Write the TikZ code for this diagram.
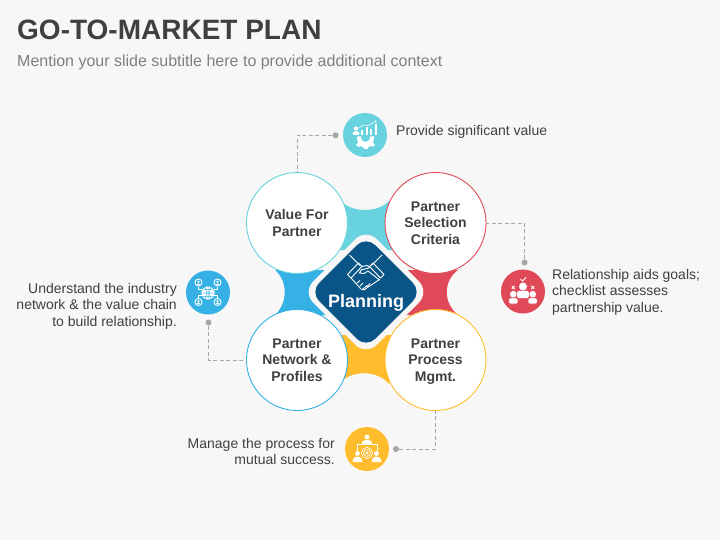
\documentclass[tikz,border=0pt]{standalone}
\usepackage{fontspec}
\setmainfont{Liberation Sans}
\definecolor{bgc}{HTML}{F7F7F7}
\definecolor{teal}{HTML}{68D3DE}
\definecolor{redc}{HTML}{E04A58}
\definecolor{bluec}{HTML}{36B1E5}
\definecolor{yellowc}{HTML}{FFBC2C}
\definecolor{navy}{HTML}{0A5587}
\definecolor{ink}{HTML}{404040}
\definecolor{subc}{HTML}{7F7F7F}
\definecolor{linec}{HTML}{A6A6A6}
\tikzset{
  bigcircle/.style={circle,fill=white,draw=#1,line width=0.9pt,minimum size=101pt,inner sep=0pt,align=center,text=ink,font=\bfseries\fontsize{14}{16.5}\selectfont},
  iconcircle/.style={circle,fill=#1,minimum size=44pt,inner sep=0pt},
  dotnode/.style={circle,fill=linec,minimum size=6pt,inner sep=0pt},
  leader/.style={draw=linec,line width=0.8pt,dash pattern=on 4pt off 2.5pt},
  note/.style={text=ink,font=\fontsize{14}{16.5}\selectfont,inner sep=0pt},
  ico/.style={fill=white,draw=none},
  icl/.style={draw=white,line width=0.6pt,fill=none},
  hand/.style={draw=white,line width=0.9pt,fill=none,line join=round},
}
\begin{document}
\begin{tikzpicture}[x=1pt,y=-1pt]
\useasboundingbox (0,0) rectangle (720,540);
\fill[bgc] (0,0) rectangle (720,540);
% title
\node[anchor=west,inner sep=0pt,text=ink,font=\bfseries\fontsize{28}{30}\selectfont] (title) at (17,30) {GO-TO-MARKET PLAN};
\node[anchor=west,inner sep=0pt,text=subc,font=\fontsize{16}{18}\selectfont] (subtitle) at (17,62) {Mention your slide subtitle here to provide additional context};
% coloured connecting regions
\fill[teal] (341,201) .. controls (352,213) and (378,213) .. (389,201) -- (395,250) -- (335,250) -- cycle;
\fill[bluec] (275,270) .. controls (288,281) and (288,303) .. (275,315) -- (330,315) -- (330,270) -- cycle;
\fill[redc] (458,270) .. controls (443,281) and (443,303) .. (458,315) -- (400,315) -- (400,270) -- cycle;
\fill[yellowc] (341,382) .. controls (352,370) and (378,370) .. (389,384) -- (395,335) -- (335,335) -- cycle;
% big circles
\node[bigcircle=teal] (value) at (297,223) {Value For\\Partner};
\node[bigcircle=redc] (selection) at (435.5,223) {Partner\\Selection\\Criteria};
\node[bigcircle=bluec] (network) at (297,360) {Partner\\Network \&\\Profiles};
\node[bigcircle=yellowc] (process) at (435.5,360) {Partner\\Process\\\smash{Mgmt.}};
% centre diamond
\fill[bgc,rounded corners=15pt] (366,228.5) -- (429.5,292) -- (366,355.5) -- (302.5,292) -- cycle;
\fill[navy,rounded corners=13pt] (366,236) -- (422,292) -- (366,348) -- (310,292) -- cycle;
\node[inner sep=0pt,text=white,font=\bfseries\fontsize{18}{20}\selectfont] (planning) at (366,302.5) {Planning};
% handshake
\draw[hand] (349.5,255) -- (360,265.5) (382,255) -- (371.5,265.5);
\draw[hand] (347.5,274.5) -- (358.5,263) -- (362,266.5) -- (351,278) -- cycle;
\draw[hand] (384,274.5) -- (373,263) -- (369.5,266.5) -- (380.5,278) -- cycle;
\draw[hand] (362,266.5) -- (367,265.5) -- (371,268) (369,268) -- (361,270) -- (359.5,273) -- (364,273.5) -- (368,271) -- (379.5,280);
\draw[hand] (351,278) -- (361,289) -- (364,290) -- (366,288.5) -- (379.5,279.5);
\draw[hand] (357,283) -- (360,280.5) (360,286) -- (363,283) (363,289) -- (367,285.5) (367,287) -- (370,283.5);
% icon circles
\node[iconcircle=teal] (ivalue) at (365,135) {};
\node[iconcircle=redc] (iselection) at (523,291.5) {};
\node[iconcircle=bluec] (inetwork) at (208,292.5) {};
\node[iconcircle=yellowc] (iprocess) at (367,449) {};
% dots and leaders
\node[dotnode] (dvalue) at (335.5,135.3) {};
\node[dotnode] (dselection) at (524.5,262.5) {};
\node[dotnode] (dnetwork) at (208.5,322.5) {};
\node[dotnode] (dprocess) at (396,449) {};
\draw[leader] (dvalue) -| (value.north);
\draw[leader] (dselection) |- (selection.east);
\draw[leader] (dnetwork) |- (network.west);
\draw[leader] (dprocess) -| (process.south);
% notes
\node[note,anchor=west] (nvalue) at (396,132) {Provide significant value};
\node[note,anchor=west,align=left] (nselection) at (552,292) {Relationship aids goals;\\checklist assesses\\partnership value.};
\node[note,anchor=east,align=right] (nnetwork) at (177,306) {Understand the industry\\network \& the value chain\\to build relationship.};
\node[note,anchor=east,align=right] (nprocess) at (335,451.5) {Manage the process for\\mutual success.};
% icon: value (person, bars, gear)
\begin{scope}[shift={(365,135)}]
\fill[ico] (-9,-6.5) circle[radius=2.2];
\fill[ico,rounded corners=1.5pt] (-12.5,0) -- (-12.5,-3.5) -- (-5.5,-3.5) -- (-5.5,0) -- cycle;
\fill[ico] (-4.5,0) rectangle (-2.5,-4.5);
\fill[ico] (0.5,0) rectangle (2.5,-7.5);
\fill[ico] (5,0) rectangle (7,-5.5);
\fill[ico] (9.5,0) rectangle (11.5,-10.5);
\draw[icl] (-6,-7) -- (-1.5,-10) -- (3,-9.5) -- (9.5,-13);
\fill[ico] (10.5,-13.5) circle[radius=1];
\fill[ico] (-8,1.5) .. controls (-8,9) and (-4,13) .. (0.5,13) .. controls (5,13) and (9,9) .. (9,1.5) -- (5,1.5) .. controls (5,5) and (3,7) .. (0.5,7) .. controls (-2,7) and (-4,5) .. (-4,1.5) -- cycle;
\fill[ico] (-1.5,12) rectangle (2.5,14.5);
\fill[ico] (-7,7.5) -- (-9,10) -- (-6,12) -- (-4,10) -- cycle;
\fill[ico] (8,7.5) -- (10,10) -- (7,12) -- (5,10) -- cycle;
\end{scope}
% icon: selection (three people)
\begin{scope}[shift={(523,291.5)}]
\fill[ico] (0,-5) circle[radius=4];
\fill[ico,rounded corners=2pt] (-5.8,6.7) -- (-5.8,-0.7) -- (5.8,-0.7) -- (5.8,6.7) -- cycle;
\fill[ico] (-9.7,2.7) circle[radius=3.3];
\filldraw[fill=white,draw=redc,line width=0.6pt,rounded corners=2pt] (-14.3,12.5) -- (-14.3,6.4) -- (-5,6.4) -- (-5,12.5) -- cycle;
\fill[ico] (9.7,2.7) circle[radius=3.3];
\filldraw[fill=white,draw=redc,line width=0.6pt,rounded corners=2pt] (5,12.5) -- (5,6.4) -- (14.3,6.4) -- (14.3,12.5) -- cycle;
\draw[icl,line width=0.9pt] (-2.5,-12.5) -- (-0.5,-10.5) -- (3,-14);
\draw[icl,line width=0.8pt] (-11.2,-5.5) -- (-8.2,-2.5) (-8.2,-5.5) -- (-11.2,-2.5) (8.2,-5.5) -- (11.2,-2.5) (11.2,-5.5) -- (8.2,-2.5);
\end{scope}
% icon: network (globe and four people)
\begin{scope}[shift={(208,292.5)}]
\draw[icl,line width=0.5pt] (-9.5,-6) -- (-9.5,-3) -- (-5,-3) (9.5,-6) -- (9.5,-3) -- (5,-3) (-9.5,6) -- (-9.5,3) -- (-5,3) (9.5,6) -- (9.5,3) -- (5,3);
\fill[ico] (0,0.5) circle[radius=6.7];
\draw[draw=bluec,line width=0.5pt] (-6.7,0.5) -- (6.7,0.5) (-5.6,-3) -- (5.6,-3) (-5.6,4) -- (5.6,4) (0,-6.2) -- (0,7.2) (-3,-5.3) .. controls (-1,-2) and (-1,3) .. (-3,6.3) (3,-5.3) .. controls (1,-2) and (1,3) .. (3,6.3);
\foreach \sx/\sy in {-9.5/-10,9.5/-10,-9.5/9.5,9.5/9.5}{
  \draw[icl,line width=0.9pt] (\sx,\sy) circle[radius=3.5];
  \fill[ico] (\sx,\sy-0.6) circle[radius=1.2];
  \fill[ico] (\sx-1.9,\sy+2) rectangle (\sx+1.9,\sy+1);
}
\end{scope}
% icon: process (presenter, board, gear, two people)
\begin{scope}[shift={(367,449)}]
\fill[ico] (0,-12) circle[radius=2.4];
\fill[ico] (-5,-5) .. controls (-5,-9) and (-2,-9) .. (0,-9) .. controls (2,-9) and (5,-9) .. (5,-5) -- cycle;
\draw[icl,line width=0.7pt] (-10,2) -- (-10,-4.5) -- (10,-4.5) -- (10,2);
\draw[icl,line width=0.7pt] (0,4) circle[radius=5.6];
\draw[icl,line width=0.7pt] (0,4) circle[radius=3.4];
\fill[ico] (0,4) circle[radius=1.6];
\fill[ico] (-9.5,4.5) circle[radius=2.4];
\fill[ico] (-14.5,13) .. controls (-14,8) and (-11,7.5) .. (-9.5,7.5) .. controls (-8,7.5) and (-5,8) .. (-4.5,13) -- cycle;
\fill[ico] (9.5,4.5) circle[radius=2.4];
\fill[ico] (4.5,13) .. controls (5,8) and (8,7.5) .. (9.5,7.5) .. controls (11,7.5) and (14,8) .. (14.5,13) -- cycle;
\end{scope}
\end{tikzpicture}
\end{document}
